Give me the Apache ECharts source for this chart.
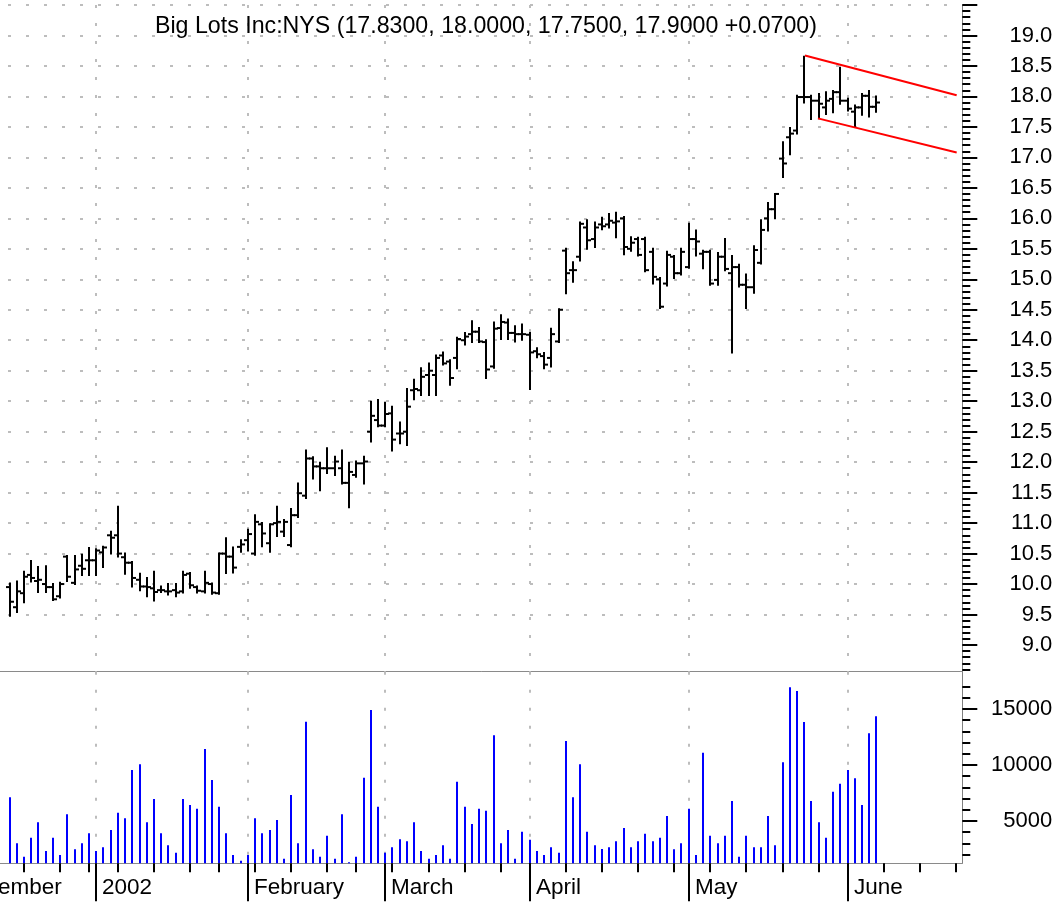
<!DOCTYPE html>
<html><head><meta charset="utf-8">
<script src="https://cdn.jsdelivr.net/npm/echarts@6.0.0/dist/echarts.min.js"></script>
<style>html,body{margin:0;padding:0;background:#fff}#chart{width:1061px;height:905px}</style>
</head><body><div id="chart"></div>
<script>
const FONT = '"Liberation Sans", Arial, Helvetica, sans-serif';
const chartTitle = 'Big Lots Inc:NYS (17.8300, 18.0000, 17.7500, 17.9000 +0.0700)';

// trading-day index 0 = 13 Dec 2001 ... 120 = 7 Jun 2002
const open = [9.95,9.62,9.85,10.15,10.05,10.0,9.95,9.8,10.45,10.02, 10.3,10.39,10.39,10.52,10.8,10.8,10.44,10.35,10.07,9.96, 9.93,9.9,9.88,9.9,9.88,10.17,9.95,9.88,10.0,9.85, 10.5,10.45,10.61,10.72,10.5,10.98,10.67,11.0,10.86,10.64, 11.13,11.45,12.06,11.93,11.9,11.9,11.9,11.66,11.79,11.98, 12.5,12.69,12.6,12.8,12.47,12.5,13.18,13.18,13.43,13.43, 13.75,13.65,13.71,14.0,14.1,14.14,13.97,13.57,14.2,14.29, 14.12,14.1,14.09,13.82,13.74,13.71,13.98,15.47,15.15,15.37, 15.85,15.66,15.9,15.9,15.93,16.0,15.5,15.66,15.66,15.45, 15.0,14.93,15.37,15.1,15.2,15.66,15.42,15.45,14.99,15.37, 15.1,15.2,14.91,14.87,15.27,16.0,16.15,16.98,17.33,17.44, 17.99,17.99,17.93,17.82,17.96,18.07,17.93,17.75,17.82,18.01, 17.83];
const high = [10.01,10.04,10.2,10.38,10.28,10.29,10.0,10.02,10.46,10.46, 10.48,10.59,10.57,10.61,10.86,11.27,10.5,10.36,10.17,10.1, 10.2,9.96,10.0,10.0,10.2,10.18,9.96,10.2,10.01,10.5, 10.75,10.6,10.72,10.89,11.13,11.0,10.98,11.27,11.05,11.23, 11.65,12.19,12.08,11.99,12.23,12.09,12.19,11.99,12.01,12.09, 12.99,13.02,12.97,12.91,12.65,13.2,13.35,13.54,13.62,13.75, 13.8,13.67,14.04,14.12,14.31,14.2,14.0,14.29,14.41,14.34, 14.23,14.26,14.12,13.87,13.79,14.19,14.51,15.5,15.28,15.93, 15.97,15.93,16.01,16.07,16.09,16.02,15.69,15.68,15.68,15.5, 15.02,15.45,15.38,15.5,15.91,15.8,15.47,15.47,15.43,15.66, 15.38,15.24,15.08,15.54,15.97,16.25,16.4,17.25,17.48,18.01, 18.65,18.01,18.04,18.07,18.09,18.47,17.96,17.85,18.04,18.09, 18.0];
const low = [9.48,9.54,9.7,10.04,9.87,9.87,9.74,9.78,10.05,10.0, 10.15,10.15,10.15,10.28,10.5,10.45,10.17,9.96,9.9,9.8, 9.73,9.87,9.83,9.8,9.86,9.94,9.86,9.86,9.84,9.84, 10.18,10.19,10.53,10.55,10.48,10.62,10.53,10.79,10.79,10.62, 11.1,11.41,11.73,11.54,11.82,11.79,11.65,11.26,11.76,11.65, 12.34,12.59,12.59,12.19,12.31,12.28,13.03,13.1,13.1,13.1, 13.6,13.27,13.54,13.93,13.97,13.97,13.38,13.55,14.02,14.02, 13.98,14.01,13.2,13.72,13.54,13.57,13.97,14.77,14.96,15.31, 15.5,15.53,15.82,15.85,15.69,15.41,15.47,15.39,15.13,14.93, 14.53,14.9,15.02,15.08,15.19,15.39,15.18,14.91,14.91,15.15, 13.8,14.88,14.53,14.78,15.26,15.8,16.0,16.68,17.05,17.39, 17.9,17.63,17.64,17.71,17.74,17.88,17.77,17.5,17.7,17.67, 17.75];
const close = [9.71,9.88,10.12,10.1,10.07,9.95,9.75,10.0,10.12,10.24, 10.25,10.39,10.55,10.6,10.76,10.5,10.35,10.1,9.96,9.95, 9.87,9.9,9.88,9.86,10.15,9.98,9.89,10.02,9.86,10.5, 10.45,10.27,10.65,10.82,11.02,10.83,10.98,11.02,11.02,11.13, 11.49,12.06,11.93,11.9,11.9,12.01,11.66,11.84,11.98,12.01, 12.76,12.6,12.79,12.37,12.47,12.91,13.2,13.4,13.5,13.71, 13.62,13.38,14.02,14.06,14.14,13.98,13.52,14.19,14.3,14.12, 14.1,14.1,13.8,13.77,13.6,14.1,14.5,15.1,15.15,15.91, 15.64,15.85,15.87,15.96,15.95,15.53,15.6,15.4,15.15,15.04, 14.55,15.4,15.1,15.45,15.66,15.62,15.45,14.93,15.37,15.17, 15.2,14.91,14.87,15.48,15.81,16.15,16.4,16.9,17.39,17.99, 17.99,17.93,17.88,17.93,18.07,17.93,17.8,17.82,18.01,17.83, 17.9];
const volume = [7113,3006,1816,3512,4881,2322,3512,1965,5595,2470, 3006,3899,2322,2649,4196,5744,5238,9553,10059,4881, 6964,3899,2827,2173,6964,6428,6101,11428,8660,6280, 3899,1965,1459,1965,5238,3899,4196,5089,1637,7321, 3006,13868,2470,1816,3691,1637,5595,1310,1816,8869, 14910,6280,2173,2649,3363,3185,4881,2322,1637,1965, 2827,1637,8512,6280,4732,6101,5923,12648,3006,4196, 1637,4048,3333,2322,1965,2649,2173,12142,7113,10059, 4048,2827,2500,2649,3185,4375,2649,3185,3869,3185, 3512,5446,2470,3006,6101,1965,11101,3691,3006,3691, 6786,1816,3691,2649,2649,5446,2827,10238,16934,16606, 13839,6786,4881,3512,7619,8333,9553,8809,6428,12827, 14345];

// calendar marks (trading-day indices)
const monthStarts = [-8, 12, 33, 52, 72, 94, 116];
const monthLabels = ['December', '2002', 'February', 'March', 'April', 'May', 'June'];
const weekStarts = [2,7,11,15,20,25,29,34,39,44,48,53,58,63,68,72,77,82,87,92,97,102,107,112,116,121,126,131];

// red channel lines [index, price]
const channelUpper = [[110.1, 18.67], [131.1, 18.02]];
const channelLower = [[111.9, 17.64], [131.1, 17.08]];

// axis ticks
const priceMajorTicks = [9.0,9.5,10.0,10.5,11.0,11.5,12.0,12.5,13.0,13.5,14.0,14.5,15.0,15.5,16.0,16.5,17.0,17.5,18.0,18.5,19.0,19.5];
const priceLabels = [9.0,9.5,10.0,10.5,11.0,11.5,12.0,12.5,13.0,13.5,14.0,14.5,15.0,15.5,16.0,16.5,17.0,17.5,18.0,18.5,19.0];
const priceMinorTicks = [];
for (let k = 86; k <= 194; k++) priceMinorTicks.push(k / 10);
const volMajorTicks = [5000, 10000, 15000];
const volMinorTicks = [2000,3000,4000,5000,6000,7000,8000,9000,10000,11000,12000,13000,14000,15000,16000,17000];

const X_MIN = -1.315, X_MAX = 131.88;
const P_MIN = 8.562, P_MAX = 19.5;
const V_MIN = 1223, V_MAX = 18330;

const ohlcData = open.map((o, i) => [i, o, high[i], low[i], close[i]]);
const volData = volume.map((v, i) => [i, v]);

const chart = echarts.init(document.getElementById('chart'), null, {renderer: 'canvas'});

const dotted = {stroke: '#bdbdbd', lineWidth: 2, lineDash: [3, 15]};

function vGrid(params, api) {
  const cs = params.coordSys;
  const p = api.coord([api.value(0), api.value(1)]);
  if (p[0] < cs.x - 0.5 || p[0] > cs.x + cs.width + 0.5) return null;
  const x = Math.round(p[0]);
  return {type: 'line', silent: true, shape: {x1: x, y1: cs.y, x2: x, y2: cs.y + cs.height}, style: dotted};
}

const xBase = {type: 'value', min: X_MIN, max: X_MAX,
  axisLine: {show: true, onZero: false, lineStyle: {color: '#8a8a8a', width: 1}},
  axisTick: {show: false}, axisLabel: {show: false}, splitLine: {show: false}};

function yAx(gridIndex, min, max, extra) {
  return Object.assign({gridIndex: gridIndex, type: 'value', position: 'right', min: min, max: max,
    axisLine: {show: false, onZero: false}, axisLabel: {show: false}, splitLine: {show: false}}, extra);
}

const option = {
  animation: false,
  backgroundColor: '#fff',
  title: {text: chartTitle, left: 155, top: 15, padding: 0,
    textStyle: {fontSize: 23.2, fontWeight: 'normal', color: '#000', fontFamily: FONT}},
  grid: [
    {left: 0, right: 98.7, top: 5, height: 666.7},
    {left: 0, right: 98.7, top: 671.7, height: 191.6}
  ],
  xAxis: [
    Object.assign({gridIndex: 0}, xBase),
    Object.assign({gridIndex: 1}, xBase)
  ],
  yAxis: [
    yAx(0, P_MIN, P_MAX, {
      axisLine: {show: true, onZero: false, lineStyle: {color: '#808080', width: 1}},
      axisTick: {show: true, customValues: priceMajorTicks, length: 15, lineStyle: {color: '#000', width: 2}},
      axisLabel: {show: true, customValues: priceLabels, formatter: v => Number(v).toFixed(1),
        fontSize: 22, fontFamily: FONT, color: '#000', align: 'right', margin: 90, padding: [4, 0, 0, 0]},
      splitLine: {show: true, showMinLine: false,
        lineStyle: {color: '#bdbdbd', width: 2, type: [3, 15], dashOffset: 10}}}),
    yAx(0, P_MIN, P_MAX, {
      axisTick: {show: true, customValues: priceMinorTicks, length: 8, lineStyle: {color: '#000', width: 2}}}),
    yAx(1, V_MIN, V_MAX, {
      axisLine: {show: true, onZero: false, lineStyle: {color: '#808080', width: 1}},
      axisTick: {show: true, customValues: volMajorTicks, length: 15, lineStyle: {color: '#000', width: 2}},
      axisLabel: {show: true, customValues: volMajorTicks, formatter: v => String(Math.round(v)),
        fontSize: 22, fontFamily: FONT, color: '#000', align: 'right', margin: 90, padding: [4, 0, 0, 0]}}),
    yAx(1, V_MIN, V_MAX, {
      axisTick: {show: true, customValues: volMinorTicks, length: 8, lineStyle: {color: '#000', width: 2}}})
  ],
  series: [
    {type: 'custom', name: 'vgridPrice', xAxisIndex: 0, yAxisIndex: 0, z: 1, silent: true, clip: false,
      data: monthStarts.map(m => [m, P_MIN]), renderItem: vGrid},
    {type: 'custom', name: 'vgridVol', xAxisIndex: 1, yAxisIndex: 2, z: 1, silent: true, clip: false,
      data: monthStarts.map(m => [m, V_MIN]), renderItem: vGrid},
    {type: 'custom', name: 'ohlc', xAxisIndex: 0, yAxisIndex: 0, z: 3, silent: true, clip: false,
      data: ohlcData, encode: {x: 0, y: [1, 2, 3, 4]},
      renderItem: function (params, api) {
        const i = api.value(0);
        const pO = api.coord([i, api.value(1)]);
        const pH = api.coord([i, api.value(2)]);
        const pL = api.coord([i, api.value(3)]);
        const pC = api.coord([i, api.value(4)]);
        const x = Math.round(pH[0]);
        const st = {stroke: '#000', lineWidth: 2};
        return {type: 'group', children: [
          {type: 'line', shape: {x1: x, y1: pH[1] - 1, x2: x, y2: pL[1] + 1}, style: st},
          {type: 'line', shape: {x1: x - 4, y1: pO[1], x2: x, y2: pO[1]}, style: st},
          {type: 'line', shape: {x1: x, y1: pC[1], x2: x + 4, y2: pC[1]}, style: st}
        ]};
      }},
    {type: 'line', name: 'upper', xAxisIndex: 0, yAxisIndex: 0, z: 4, silent: true,
      data: channelUpper, symbol: 'none', lineStyle: {color: '#ff0000', width: 2}},
    {type: 'line', name: 'lower', xAxisIndex: 0, yAxisIndex: 0, z: 4, silent: true,
      data: channelLower, symbol: 'none', lineStyle: {color: '#ff0000', width: 2}},
    {type: 'custom', name: 'volume', xAxisIndex: 1, yAxisIndex: 2, z: 3, silent: true, clip: false,
      data: volData, encode: {x: 0, y: 1},
      renderItem: function (params, api) {
        const cs = params.coordSys;
        const p = api.coord([api.value(0), api.value(1)]);
        const x = Math.round(p[0]);
        return {type: 'line', shape: {x1: x, y1: p[1], x2: x, y2: cs.y + cs.height}, style: {stroke: '#0000ff', lineWidth: 2}};
      }},
    {type: 'custom', name: 'weeks', xAxisIndex: 1, yAxisIndex: 2, z: 5, silent: true, clip: false,
      data: weekStarts.map(w => [w, V_MIN]),
      renderItem: function (params, api) {
        const cs = params.coordSys;
        const p = api.coord([api.value(0), api.value(1)]);
        const x = Math.round(p[0]);
        const yb = cs.y + cs.height;
        return {type: 'line', shape: {x1: x, y1: yb, x2: x, y2: yb + 9}, style: {stroke: '#000', lineWidth: 2}};
      }},
    {type: 'custom', name: 'months', xAxisIndex: 1, yAxisIndex: 2, z: 5, silent: true, clip: false,
      data: monthStarts.map((m, k) => [m, V_MIN, k]),
      renderItem: function (params, api) {
        const cs = params.coordSys;
        const p = api.coord([api.value(0), api.value(1)]);
        const x = Math.round(p[0]);
        const yb = cs.y + cs.height;
        return {type: 'group', children: [
          {type: 'line', shape: {x1: x, y1: yb, x2: x, y2: yb + 38}, style: {stroke: '#000', lineWidth: 2}},
          {type: 'text', style: {text: monthLabels[api.value(2)], x: x + 6, y: yb + 24,
            fontSize: 22.5, fontFamily: FONT, fill: '#000', align: 'left', verticalAlign: 'middle'}}
        ]};
      }}
  ]
};
chart.setOption(option);
</script></body></html>
